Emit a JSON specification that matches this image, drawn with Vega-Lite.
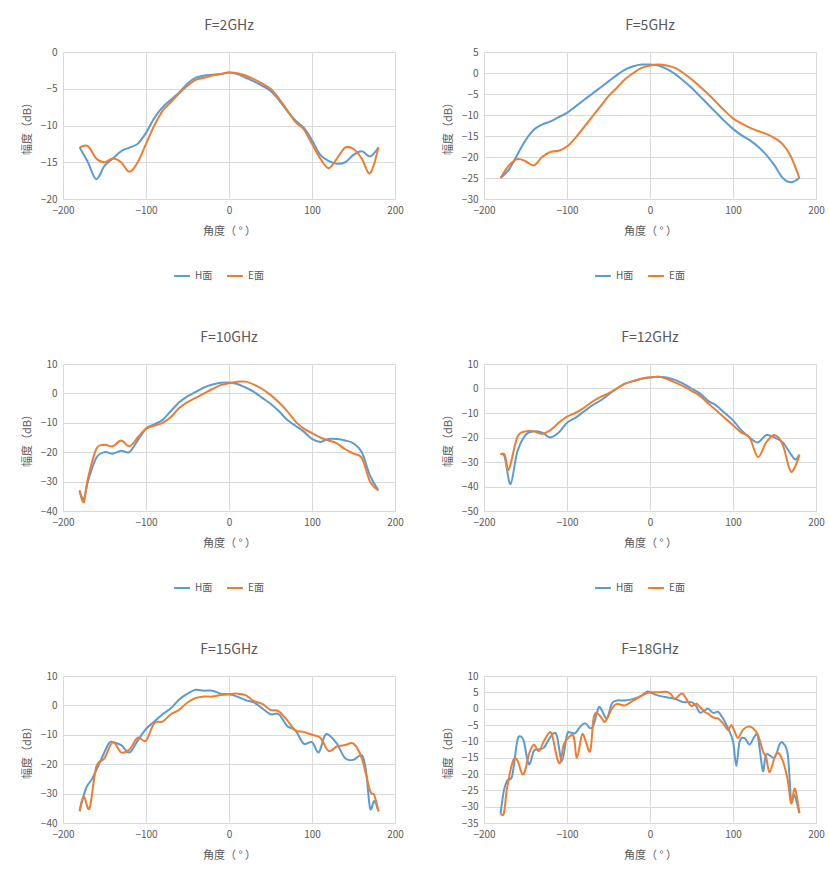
{
  "$schema": "https://vega.github.io/schema/vega-lite/v6.json",
  "padding": {"left": 21, "top": 19, "right": 5, "bottom": 5},
  "background": "white",
  "datasets": {
    "pat": [
      {"f":"2","s":"H面","ang":-180,"v":-13},{"f":"2","s":"H面","ang":-170,"v":-15},{"f":"2","s":"H面","ang":-160,"v":-17.3},{"f":"2","s":"H面","ang":-150,"v":-15.5},{"f":"2","s":"H面","ang":-140,"v":-14.5},{"f":"2","s":"H面","ang":-130,"v":-13.5},{"f":"2","s":"H面","ang":-120,"v":-13},{"f":"2","s":"H面","ang":-110,"v":-12.5},{"f":"2","s":"H面","ang":-100,"v":-11},{"f":"2","s":"H面","ang":-90,"v":-9},{"f":"2","s":"H面","ang":-80,"v":-7.5},{"f":"2","s":"H面","ang":-70,"v":-6.5},{"f":"2","s":"H面","ang":-60,"v":-5.5},{"f":"2","s":"H面","ang":-50,"v":-4.3},{"f":"2","s":"H面","ang":-40,"v":-3.5},{"f":"2","s":"H面","ang":-30,"v":-3.2},{"f":"2","s":"H面","ang":-20,"v":-3.1},{"f":"2","s":"H面","ang":-10,"v":-3},{"f":"2","s":"H面","ang":0,"v":-2.8},{"f":"2","s":"H面","ang":10,"v":-3},{"f":"2","s":"H面","ang":20,"v":-3.5},{"f":"2","s":"H面","ang":30,"v":-4},{"f":"2","s":"H面","ang":40,"v":-4.6},{"f":"2","s":"H面","ang":50,"v":-5.3},{"f":"2","s":"H面","ang":60,"v":-6.5},{"f":"2","s":"H面","ang":70,"v":-8},{"f":"2","s":"H面","ang":80,"v":-9.3},{"f":"2","s":"H面","ang":90,"v":-10.3},{"f":"2","s":"H面","ang":100,"v":-12},{"f":"2","s":"H面","ang":110,"v":-14},{"f":"2","s":"H面","ang":120,"v":-14.8},{"f":"2","s":"H面","ang":130,"v":-15.2},{"f":"2","s":"H面","ang":140,"v":-15},{"f":"2","s":"H面","ang":150,"v":-14},{"f":"2","s":"H面","ang":160,"v":-13.5},{"f":"2","s":"H面","ang":170,"v":-14.2},{"f":"2","s":"H面","ang":180,"v":-13},
      {"f":"2","s":"E面","ang":-180,"v":-13},{"f":"2","s":"E面","ang":-170,"v":-12.8},{"f":"2","s":"E面","ang":-160,"v":-14.5},{"f":"2","s":"E面","ang":-150,"v":-15},{"f":"2","s":"E面","ang":-140,"v":-14.5},{"f":"2","s":"E面","ang":-130,"v":-15},{"f":"2","s":"E面","ang":-120,"v":-16.3},{"f":"2","s":"E面","ang":-110,"v":-15},{"f":"2","s":"E面","ang":-100,"v":-12.5},{"f":"2","s":"E面","ang":-90,"v":-10},{"f":"2","s":"E面","ang":-80,"v":-8},{"f":"2","s":"E面","ang":-70,"v":-6.8},{"f":"2","s":"E面","ang":-60,"v":-5.6},{"f":"2","s":"E面","ang":-50,"v":-4.6},{"f":"2","s":"E面","ang":-40,"v":-3.8},{"f":"2","s":"E面","ang":-30,"v":-3.5},{"f":"2","s":"E面","ang":-20,"v":-3.2},{"f":"2","s":"E面","ang":-10,"v":-3},{"f":"2","s":"E面","ang":0,"v":-2.8},{"f":"2","s":"E面","ang":10,"v":-2.9},{"f":"2","s":"E面","ang":20,"v":-3.2},{"f":"2","s":"E面","ang":30,"v":-3.7},{"f":"2","s":"E面","ang":40,"v":-4.3},{"f":"2","s":"E面","ang":50,"v":-5},{"f":"2","s":"E面","ang":60,"v":-6.3},{"f":"2","s":"E面","ang":70,"v":-7.9},{"f":"2","s":"E面","ang":80,"v":-9.5},{"f":"2","s":"E面","ang":90,"v":-10.5},{"f":"2","s":"E面","ang":100,"v":-12.5},{"f":"2","s":"E面","ang":110,"v":-14.5},{"f":"2","s":"E面","ang":120,"v":-15.8},{"f":"2","s":"E面","ang":130,"v":-14.5},{"f":"2","s":"E面","ang":140,"v":-13},{"f":"2","s":"E面","ang":150,"v":-13.2},{"f":"2","s":"E面","ang":160,"v":-14.5},{"f":"2","s":"E面","ang":170,"v":-16.5},{"f":"2","s":"E面","ang":180,"v":-13},

      {"f":"5","s":"H面","ang":-180,"v":-25},{"f":"5","s":"H面","ang":-170,"v":-23},{"f":"5","s":"H面","ang":-160,"v":-19.5},{"f":"5","s":"H面","ang":-150,"v":-16},{"f":"5","s":"H面","ang":-140,"v":-13.5},{"f":"5","s":"H面","ang":-130,"v":-12.3},{"f":"5","s":"H面","ang":-120,"v":-11.5},{"f":"5","s":"H面","ang":-110,"v":-10.5},{"f":"5","s":"H面","ang":-100,"v":-9.5},{"f":"5","s":"H面","ang":-90,"v":-8},{"f":"5","s":"H面","ang":-80,"v":-6.5},{"f":"5","s":"H面","ang":-70,"v":-5},{"f":"5","s":"H面","ang":-60,"v":-3.5},{"f":"5","s":"H面","ang":-50,"v":-2},{"f":"5","s":"H面","ang":-40,"v":-0.5},{"f":"5","s":"H面","ang":-30,"v":0.8},{"f":"5","s":"H面","ang":-20,"v":1.6},{"f":"5","s":"H面","ang":-10,"v":2},{"f":"5","s":"H面","ang":0,"v":2},{"f":"5","s":"H面","ang":10,"v":1.8},{"f":"5","s":"H面","ang":20,"v":1},{"f":"5","s":"H面","ang":30,"v":-0.2},{"f":"5","s":"H面","ang":40,"v":-1.8},{"f":"5","s":"H面","ang":50,"v":-3.5},{"f":"5","s":"H面","ang":60,"v":-5.5},{"f":"5","s":"H面","ang":70,"v":-7.5},{"f":"5","s":"H面","ang":80,"v":-9.5},{"f":"5","s":"H面","ang":90,"v":-11.5},{"f":"5","s":"H面","ang":100,"v":-13.3},{"f":"5","s":"H面","ang":110,"v":-14.8},{"f":"5","s":"H面","ang":120,"v":-16},{"f":"5","s":"H面","ang":130,"v":-17.5},{"f":"5","s":"H面","ang":140,"v":-19.5},{"f":"5","s":"H面","ang":150,"v":-22},{"f":"5","s":"H面","ang":160,"v":-25},{"f":"5","s":"H面","ang":170,"v":-26},{"f":"5","s":"H面","ang":180,"v":-25},
      {"f":"5","s":"E面","ang":-180,"v":-25},{"f":"5","s":"E面","ang":-170,"v":-22},{"f":"5","s":"E面","ang":-160,"v":-20.5},{"f":"5","s":"E面","ang":-150,"v":-21},{"f":"5","s":"E面","ang":-140,"v":-22},{"f":"5","s":"E面","ang":-130,"v":-20},{"f":"5","s":"E面","ang":-120,"v":-18.8},{"f":"5","s":"E面","ang":-110,"v":-18.5},{"f":"5","s":"E面","ang":-100,"v":-17.5},{"f":"5","s":"E面","ang":-90,"v":-15.5},{"f":"5","s":"E面","ang":-80,"v":-13},{"f":"5","s":"E面","ang":-70,"v":-10.5},{"f":"5","s":"E面","ang":-60,"v":-8},{"f":"5","s":"E面","ang":-50,"v":-5.5},{"f":"5","s":"E面","ang":-40,"v":-3.5},{"f":"5","s":"E面","ang":-30,"v":-1.5},{"f":"5","s":"E面","ang":-20,"v":0},{"f":"5","s":"E面","ang":-10,"v":1.2},{"f":"5","s":"E面","ang":0,"v":1.8},{"f":"5","s":"E面","ang":10,"v":2},{"f":"5","s":"E面","ang":20,"v":1.8},{"f":"5","s":"E面","ang":30,"v":1.2},{"f":"5","s":"E面","ang":40,"v":0},{"f":"5","s":"E面","ang":50,"v":-1.5},{"f":"5","s":"E面","ang":60,"v":-3.2},{"f":"5","s":"E面","ang":70,"v":-5},{"f":"5","s":"E面","ang":80,"v":-7},{"f":"5","s":"E面","ang":90,"v":-9},{"f":"5","s":"E面","ang":100,"v":-10.8},{"f":"5","s":"E面","ang":110,"v":-12},{"f":"5","s":"E面","ang":120,"v":-13},{"f":"5","s":"E面","ang":130,"v":-13.8},{"f":"5","s":"E面","ang":140,"v":-14.5},{"f":"5","s":"E面","ang":150,"v":-15.5},{"f":"5","s":"E面","ang":160,"v":-17},{"f":"5","s":"E面","ang":170,"v":-20},{"f":"5","s":"E面","ang":180,"v":-25},

      {"f":"10","s":"H面","ang":-180,"v":-33},{"f":"10","s":"H面","ang":-175,"v":-36},{"f":"10","s":"H面","ang":-170,"v":-30},{"f":"10","s":"H面","ang":-160,"v":-22},{"f":"10","s":"H面","ang":-150,"v":-20},{"f":"10","s":"H面","ang":-140,"v":-20.5},{"f":"10","s":"H面","ang":-130,"v":-19.5},{"f":"10","s":"H面","ang":-120,"v":-20},{"f":"10","s":"H面","ang":-110,"v":-16},{"f":"10","s":"H面","ang":-100,"v":-12},{"f":"10","s":"H面","ang":-90,"v":-10.5},{"f":"10","s":"H面","ang":-80,"v":-9},{"f":"10","s":"H面","ang":-70,"v":-6},{"f":"10","s":"H面","ang":-60,"v":-3},{"f":"10","s":"H面","ang":-50,"v":-1},{"f":"10","s":"H面","ang":-40,"v":0.5},{"f":"10","s":"H面","ang":-30,"v":2},{"f":"10","s":"H面","ang":-20,"v":3},{"f":"10","s":"H面","ang":-10,"v":3.6},{"f":"10","s":"H面","ang":0,"v":3.7},{"f":"10","s":"H面","ang":10,"v":3.2},{"f":"10","s":"H面","ang":20,"v":2},{"f":"10","s":"H面","ang":30,"v":0.5},{"f":"10","s":"H面","ang":40,"v":-1.5},{"f":"10","s":"H面","ang":50,"v":-3.5},{"f":"10","s":"H面","ang":60,"v":-6},{"f":"10","s":"H面","ang":70,"v":-9},{"f":"10","s":"H面","ang":80,"v":-11},{"f":"10","s":"H面","ang":90,"v":-13},{"f":"10","s":"H面","ang":100,"v":-15.5},{"f":"10","s":"H面","ang":110,"v":-16.5},{"f":"10","s":"H面","ang":120,"v":-15.5},{"f":"10","s":"H面","ang":130,"v":-15.5},{"f":"10","s":"H面","ang":140,"v":-16},{"f":"10","s":"H面","ang":150,"v":-17},{"f":"10","s":"H面","ang":160,"v":-20},{"f":"10","s":"H面","ang":170,"v":-28},{"f":"10","s":"H面","ang":180,"v":-33},
      {"f":"10","s":"E面","ang":-180,"v":-33},{"f":"10","s":"E面","ang":-175,"v":-37},{"f":"10","s":"E面","ang":-170,"v":-29},{"f":"10","s":"E面","ang":-160,"v":-19},{"f":"10","s":"E面","ang":-150,"v":-17.5},{"f":"10","s":"E面","ang":-140,"v":-18},{"f":"10","s":"E面","ang":-130,"v":-16},{"f":"10","s":"E面","ang":-120,"v":-18},{"f":"10","s":"E面","ang":-110,"v":-15},{"f":"10","s":"E面","ang":-100,"v":-12},{"f":"10","s":"E面","ang":-90,"v":-11},{"f":"10","s":"E面","ang":-80,"v":-10},{"f":"10","s":"E面","ang":-70,"v":-8},{"f":"10","s":"E面","ang":-60,"v":-5},{"f":"10","s":"E面","ang":-50,"v":-3},{"f":"10","s":"E面","ang":-40,"v":-1.5},{"f":"10","s":"E面","ang":-30,"v":0},{"f":"10","s":"E面","ang":-20,"v":1.5},{"f":"10","s":"E面","ang":-10,"v":2.8},{"f":"10","s":"E面","ang":0,"v":3.5},{"f":"10","s":"E面","ang":10,"v":4},{"f":"10","s":"E面","ang":20,"v":4},{"f":"10","s":"E面","ang":30,"v":3},{"f":"10","s":"E面","ang":40,"v":1.5},{"f":"10","s":"E面","ang":50,"v":-0.5},{"f":"10","s":"E面","ang":60,"v":-3},{"f":"10","s":"E面","ang":70,"v":-6},{"f":"10","s":"E面","ang":80,"v":-9.5},{"f":"10","s":"E面","ang":90,"v":-12},{"f":"10","s":"E面","ang":100,"v":-13.5},{"f":"10","s":"E面","ang":110,"v":-15},{"f":"10","s":"E面","ang":120,"v":-16},{"f":"10","s":"E面","ang":130,"v":-17},{"f":"10","s":"E面","ang":140,"v":-19},{"f":"10","s":"E面","ang":150,"v":-20.5},{"f":"10","s":"E面","ang":160,"v":-22},{"f":"10","s":"E面","ang":170,"v":-30},{"f":"10","s":"E面","ang":180,"v":-33},

      {"f":"12","s":"H面","ang":-180,"v":-27},{"f":"12","s":"H面","ang":-175,"v":-28},{"f":"12","s":"H面","ang":-168,"v":-39},{"f":"12","s":"H面","ang":-160,"v":-26},{"f":"12","s":"H面","ang":-150,"v":-19},{"f":"12","s":"H面","ang":-140,"v":-17.5},{"f":"12","s":"H面","ang":-130,"v":-18},{"f":"12","s":"H面","ang":-120,"v":-20},{"f":"12","s":"H面","ang":-110,"v":-18},{"f":"12","s":"H面","ang":-100,"v":-14},{"f":"12","s":"H面","ang":-90,"v":-12},{"f":"12","s":"H面","ang":-80,"v":-9.5},{"f":"12","s":"H面","ang":-70,"v":-7},{"f":"12","s":"H面","ang":-60,"v":-5},{"f":"12","s":"H面","ang":-50,"v":-2.5},{"f":"12","s":"H面","ang":-40,"v":0},{"f":"12","s":"H面","ang":-30,"v":2},{"f":"12","s":"H面","ang":-20,"v":3},{"f":"12","s":"H面","ang":-10,"v":4},{"f":"12","s":"H面","ang":0,"v":4.5},{"f":"12","s":"H面","ang":10,"v":4.8},{"f":"12","s":"H面","ang":20,"v":4.5},{"f":"12","s":"H面","ang":30,"v":3.5},{"f":"12","s":"H面","ang":40,"v":2},{"f":"12","s":"H面","ang":50,"v":0},{"f":"12","s":"H面","ang":60,"v":-2},{"f":"12","s":"H面","ang":70,"v":-5},{"f":"12","s":"H面","ang":80,"v":-7},{"f":"12","s":"H面","ang":90,"v":-10},{"f":"12","s":"H面","ang":100,"v":-13},{"f":"12","s":"H面","ang":110,"v":-17},{"f":"12","s":"H面","ang":120,"v":-20},{"f":"12","s":"H面","ang":130,"v":-22},{"f":"12","s":"H面","ang":140,"v":-19},{"f":"12","s":"H面","ang":150,"v":-20},{"f":"12","s":"H面","ang":160,"v":-22},{"f":"12","s":"H面","ang":170,"v":-27},{"f":"12","s":"H面","ang":175,"v":-29},{"f":"12","s":"H面","ang":180,"v":-27},
      {"f":"12","s":"E面","ang":-180,"v":-27},{"f":"12","s":"E面","ang":-175,"v":-27},{"f":"12","s":"E面","ang":-170,"v":-33},{"f":"12","s":"E面","ang":-160,"v":-20},{"f":"12","s":"E面","ang":-150,"v":-17.5},{"f":"12","s":"E面","ang":-140,"v":-17.5},{"f":"12","s":"E面","ang":-130,"v":-18.5},{"f":"12","s":"E面","ang":-120,"v":-17},{"f":"12","s":"E面","ang":-110,"v":-14},{"f":"12","s":"E面","ang":-100,"v":-11.5},{"f":"12","s":"E面","ang":-90,"v":-10},{"f":"12","s":"E面","ang":-80,"v":-8},{"f":"12","s":"E面","ang":-70,"v":-5.5},{"f":"12","s":"E面","ang":-60,"v":-3.5},{"f":"12","s":"E面","ang":-50,"v":-2},{"f":"12","s":"E面","ang":-40,"v":0},{"f":"12","s":"E面","ang":-30,"v":2},{"f":"12","s":"E面","ang":-20,"v":3},{"f":"12","s":"E面","ang":-10,"v":4},{"f":"12","s":"E面","ang":0,"v":4.5},{"f":"12","s":"E面","ang":10,"v":4.8},{"f":"12","s":"E面","ang":20,"v":4},{"f":"12","s":"E面","ang":30,"v":2.5},{"f":"12","s":"E面","ang":40,"v":1},{"f":"12","s":"E面","ang":50,"v":-1},{"f":"12","s":"E面","ang":60,"v":-3},{"f":"12","s":"E面","ang":70,"v":-6},{"f":"12","s":"E面","ang":80,"v":-9},{"f":"12","s":"E面","ang":90,"v":-12},{"f":"12","s":"E面","ang":100,"v":-15},{"f":"12","s":"E面","ang":110,"v":-18},{"f":"12","s":"E面","ang":120,"v":-20},{"f":"12","s":"E面","ang":130,"v":-28},{"f":"12","s":"E面","ang":140,"v":-22},{"f":"12","s":"E面","ang":150,"v":-19},{"f":"12","s":"E面","ang":160,"v":-23},{"f":"12","s":"E面","ang":170,"v":-34},{"f":"12","s":"E面","ang":180,"v":-27},

      {"f":"15","s":"H面","ang":-180,"v":-36},{"f":"15","s":"H面","ang":-172,"v":-28},{"f":"15","s":"H面","ang":-165,"v":-25},{"f":"15","s":"H面","ang":-155,"v":-19},{"f":"15","s":"H面","ang":-145,"v":-13},{"f":"15","s":"H面","ang":-140,"v":-12.5},{"f":"15","s":"H面","ang":-130,"v":-13.5},{"f":"15","s":"H面","ang":-120,"v":-16},{"f":"15","s":"H面","ang":-110,"v":-12},{"f":"15","s":"H面","ang":-100,"v":-8},{"f":"15","s":"H面","ang":-90,"v":-5.5},{"f":"15","s":"H面","ang":-80,"v":-3},{"f":"15","s":"H面","ang":-70,"v":-1},{"f":"15","s":"H面","ang":-60,"v":2},{"f":"15","s":"H面","ang":-50,"v":4},{"f":"15","s":"H面","ang":-40,"v":5.3},{"f":"15","s":"H面","ang":-30,"v":5},{"f":"15","s":"H面","ang":-20,"v":5},{"f":"15","s":"H面","ang":-10,"v":4},{"f":"15","s":"H面","ang":0,"v":3.8},{"f":"15","s":"H面","ang":10,"v":3},{"f":"15","s":"H面","ang":20,"v":1.8},{"f":"15","s":"H面","ang":30,"v":1},{"f":"15","s":"H面","ang":40,"v":-1},{"f":"15","s":"H面","ang":50,"v":-3},{"f":"15","s":"H面","ang":60,"v":-3},{"f":"15","s":"H面","ang":70,"v":-7},{"f":"15","s":"H面","ang":80,"v":-8.5},{"f":"15","s":"H面","ang":90,"v":-13},{"f":"15","s":"H面","ang":100,"v":-12.5},{"f":"15","s":"H面","ang":108,"v":-16},{"f":"15","s":"H面","ang":115,"v":-10.5},{"f":"15","s":"H面","ang":120,"v":-10},{"f":"15","s":"H面","ang":130,"v":-13},{"f":"15","s":"H面","ang":140,"v":-18},{"f":"15","s":"H面","ang":150,"v":-18.5},{"f":"15","s":"H面","ang":160,"v":-17},{"f":"15","s":"H面","ang":165,"v":-22},{"f":"15","s":"H面","ang":170,"v":-35},{"f":"15","s":"H面","ang":175,"v":-32.5},{"f":"15","s":"H面","ang":180,"v":-36},
      {"f":"15","s":"E面","ang":-180,"v":-36},{"f":"15","s":"E面","ang":-175,"v":-31},{"f":"15","s":"E面","ang":-168,"v":-35},{"f":"15","s":"E面","ang":-160,"v":-21},{"f":"15","s":"E面","ang":-150,"v":-18},{"f":"15","s":"E面","ang":-140,"v":-12.5},{"f":"15","s":"E面","ang":-130,"v":-16},{"f":"15","s":"E面","ang":-120,"v":-15},{"f":"15","s":"E面","ang":-110,"v":-11},{"f":"15","s":"E面","ang":-100,"v":-12},{"f":"15","s":"E面","ang":-90,"v":-6},{"f":"15","s":"E面","ang":-80,"v":-5.5},{"f":"15","s":"E面","ang":-70,"v":-3},{"f":"15","s":"E面","ang":-60,"v":-1.5},{"f":"15","s":"E面","ang":-50,"v":1},{"f":"15","s":"E面","ang":-40,"v":2.5},{"f":"15","s":"E面","ang":-30,"v":3},{"f":"15","s":"E面","ang":-20,"v":3},{"f":"15","s":"E面","ang":-10,"v":3.5},{"f":"15","s":"E面","ang":0,"v":3.8},{"f":"15","s":"E面","ang":10,"v":4},{"f":"15","s":"E面","ang":20,"v":3.5},{"f":"15","s":"E面","ang":30,"v":1.5},{"f":"15","s":"E面","ang":40,"v":0.5},{"f":"15","s":"E面","ang":50,"v":-1.5},{"f":"15","s":"E面","ang":60,"v":-2},{"f":"15","s":"E面","ang":70,"v":-5},{"f":"15","s":"E面","ang":80,"v":-8.5},{"f":"15","s":"E面","ang":90,"v":-9},{"f":"15","s":"E面","ang":100,"v":-10},{"f":"15","s":"E面","ang":110,"v":-11},{"f":"15","s":"E面","ang":120,"v":-15.5},{"f":"15","s":"E面","ang":130,"v":-14},{"f":"15","s":"E面","ang":140,"v":-13.5},{"f":"15","s":"E面","ang":150,"v":-13},{"f":"15","s":"E面","ang":160,"v":-18},{"f":"15","s":"E面","ang":170,"v":-29},{"f":"15","s":"E面","ang":175,"v":-30.5},{"f":"15","s":"E面","ang":180,"v":-36},

      {"f":"18","s":"H面","ang":-180,"v":-32},{"f":"18","s":"H面","ang":-176,"v":-25},{"f":"18","s":"H面","ang":-172,"v":-22},{"f":"18","s":"H面","ang":-166,"v":-20.5},{"f":"18","s":"H面","ang":-160,"v":-10},{"f":"18","s":"H面","ang":-156,"v":-8.5},{"f":"18","s":"H面","ang":-152,"v":-10},{"f":"18","s":"H面","ang":-146,"v":-17},{"f":"18","s":"H面","ang":-140,"v":-13},{"f":"18","s":"H面","ang":-135,"v":-12.5},{"f":"18","s":"H面","ang":-128,"v":-12},{"f":"18","s":"H面","ang":-122,"v":-9.5},{"f":"18","s":"H面","ang":-116,"v":-7.5},{"f":"18","s":"H面","ang":-112,"v":-8.5},{"f":"18","s":"H面","ang":-106,"v":-16},{"f":"18","s":"H面","ang":-100,"v":-8},{"f":"18","s":"H面","ang":-96,"v":-7.3},{"f":"18","s":"H面","ang":-90,"v":-7.5},{"f":"18","s":"H面","ang":-84,"v":-5.5},{"f":"18","s":"H面","ang":-78,"v":-4.5},{"f":"18","s":"H面","ang":-72,"v":-6},{"f":"18","s":"H面","ang":-68,"v":-5},{"f":"18","s":"H面","ang":-62,"v":0.3},{"f":"18","s":"H面","ang":-58,"v":-0.5},{"f":"18","s":"H面","ang":-52,"v":-3},{"f":"18","s":"H面","ang":-46,"v":1.5},{"f":"18","s":"H面","ang":-40,"v":2.5},{"f":"18","s":"H面","ang":-30,"v":2.5},{"f":"18","s":"H面","ang":-20,"v":3},{"f":"18","s":"H面","ang":-10,"v":4},{"f":"18","s":"H面","ang":-4,"v":5.2},{"f":"18","s":"H面","ang":0,"v":5},{"f":"18","s":"H面","ang":10,"v":4},{"f":"18","s":"H面","ang":20,"v":3.5},{"f":"18","s":"H面","ang":30,"v":3},{"f":"18","s":"H面","ang":40,"v":2},{"f":"18","s":"H面","ang":50,"v":2},{"f":"18","s":"H面","ang":55,"v":1},{"f":"18","s":"H面","ang":60,"v":-1.2},{"f":"18","s":"H面","ang":66,"v":-0.5},{"f":"18","s":"H面","ang":70,"v":0},{"f":"18","s":"H面","ang":76,"v":-1.3},{"f":"18","s":"H面","ang":82,"v":-1},{"f":"18","s":"H面","ang":88,"v":-3},{"f":"18","s":"H面","ang":94,"v":-6},{"f":"18","s":"H面","ang":100,"v":-10},{"f":"18","s":"H面","ang":104,"v":-17.5},{"f":"18","s":"H面","ang":108,"v":-10},{"f":"18","s":"H面","ang":114,"v":-9},{"f":"18","s":"H面","ang":120,"v":-11},{"f":"18","s":"H面","ang":126,"v":-8.5},{"f":"18","s":"H面","ang":130,"v":-8.5},{"f":"18","s":"H面","ang":136,"v":-19},{"f":"18","s":"H面","ang":140,"v":-14},{"f":"18","s":"H面","ang":150,"v":-15},{"f":"18","s":"H面","ang":156,"v":-11},{"f":"18","s":"H面","ang":160,"v":-10.5},{"f":"18","s":"H面","ang":166,"v":-14},{"f":"18","s":"H面","ang":170,"v":-28},{"f":"18","s":"H面","ang":174,"v":-26.5},{"f":"18","s":"H面","ang":180,"v":-32},
      {"f":"18","s":"E面","ang":-180,"v":-32},{"f":"18","s":"E面","ang":-176,"v":-32},{"f":"18","s":"E面","ang":-172,"v":-24},{"f":"18","s":"E面","ang":-165,"v":-16},{"f":"18","s":"E面","ang":-160,"v":-15.7},{"f":"18","s":"E面","ang":-154,"v":-20},{"f":"18","s":"E面","ang":-150,"v":-18.5},{"f":"18","s":"E面","ang":-146,"v":-14},{"f":"18","s":"E面","ang":-140,"v":-11},{"f":"18","s":"E面","ang":-134,"v":-13},{"f":"18","s":"E面","ang":-128,"v":-10},{"f":"18","s":"E面","ang":-122,"v":-7.5},{"f":"18","s":"E面","ang":-118,"v":-8},{"f":"18","s":"E面","ang":-112,"v":-15},{"f":"18","s":"E面","ang":-108,"v":-16.5},{"f":"18","s":"E面","ang":-104,"v":-11},{"f":"18","s":"E面","ang":-98,"v":-8.8},{"f":"18","s":"E面","ang":-92,"v":-8.5},{"f":"18","s":"E面","ang":-88,"v":-15},{"f":"18","s":"E面","ang":-82,"v":-8},{"f":"18","s":"E面","ang":-78,"v":-9.5},{"f":"18","s":"E面","ang":-72,"v":-13},{"f":"18","s":"E面","ang":-68,"v":-3},{"f":"18","s":"E面","ang":-64,"v":-1.3},{"f":"18","s":"E面","ang":-58,"v":-3},{"f":"18","s":"E面","ang":-54,"v":-4},{"f":"18","s":"E面","ang":-48,"v":-1},{"f":"18","s":"E面","ang":-42,"v":1.2},{"f":"18","s":"E面","ang":-36,"v":1.3},{"f":"18","s":"E面","ang":-30,"v":1},{"f":"18","s":"E面","ang":-20,"v":2.5},{"f":"18","s":"E面","ang":-10,"v":4},{"f":"18","s":"E面","ang":0,"v":5},{"f":"18","s":"E面","ang":10,"v":5},{"f":"18","s":"E面","ang":20,"v":5.2},{"f":"18","s":"E面","ang":25,"v":4.5},{"f":"18","s":"E面","ang":30,"v":3},{"f":"18","s":"E面","ang":36,"v":4.3},{"f":"18","s":"E面","ang":40,"v":4.5},{"f":"18","s":"E面","ang":46,"v":2},{"f":"18","s":"E面","ang":50,"v":0.8},{"f":"18","s":"E面","ang":56,"v":1.5},{"f":"18","s":"E面","ang":60,"v":0.5},{"f":"18","s":"E面","ang":66,"v":-1},{"f":"18","s":"E面","ang":70,"v":-1.5},{"f":"18","s":"E面","ang":76,"v":-2.7},{"f":"18","s":"E面","ang":82,"v":-3},{"f":"18","s":"E面","ang":88,"v":-4.5},{"f":"18","s":"E面","ang":94,"v":-6.5},{"f":"18","s":"E面","ang":98,"v":-5},{"f":"18","s":"E面","ang":102,"v":-7},{"f":"18","s":"E面","ang":106,"v":-9},{"f":"18","s":"E面","ang":112,"v":-6.5},{"f":"18","s":"E面","ang":118,"v":-5.5},{"f":"18","s":"E面","ang":124,"v":-6},{"f":"18","s":"E面","ang":130,"v":-8},{"f":"18","s":"E面","ang":136,"v":-13},{"f":"18","s":"E面","ang":140,"v":-15},{"f":"18","s":"E面","ang":144,"v":-19.5},{"f":"18","s":"E面","ang":150,"v":-15},{"f":"18","s":"E面","ang":154,"v":-13.5},{"f":"18","s":"E面","ang":160,"v":-16},{"f":"18","s":"E面","ang":166,"v":-22},{"f":"18","s":"E面","ang":170,"v":-29},{"f":"18","s":"E面","ang":174,"v":-24.5},{"f":"18","s":"E面","ang":177,"v":-27},{"f":"18","s":"E面","ang":180,"v":-32}
    ]
  },
  "data": {"name": "pat"},
  "columns": 2,
  "spacing": {"column": 38, "row": 50},
  "resolve": {"scale": {"y": "independent", "color": "independent"}, "legend": {"color": "independent"}},
  "concat": [
    {"title": "F=2GHz", "width": 332, "height": 147, "transform": [{"filter": "datum.f == '2'"}], "mark": {"type": "line", "interpolate": "cardinal", "strokeWidth": 2},
     "encoding": {"x": {"field": "ang", "type": "quantitative", "scale": {"domain": [-200, 200]}, "axis": {"values": [-200, -100, 0, 100, 200], "title": "角度（ ° ）"}},
       "y": {"field": "v", "type": "quantitative", "scale": {"domain": [-20, 0]}, "axis": {"values": [-20, -15, -10, -5, 0], "title": "幅度（dB）"}},
       "color": {"field": "s", "type": "nominal", "scale": {"domain": ["H面", "E面"], "range": ["#5b9bd5", "#ed7d31"]}, "title": null}, "order": {"field": "ang", "type": "quantitative"}}},
    {"title": "F=5GHz", "width": 332, "height": 147, "transform": [{"filter": "datum.f == '5'"}], "mark": {"type": "line", "interpolate": "cardinal", "strokeWidth": 2},
     "encoding": {"x": {"field": "ang", "type": "quantitative", "scale": {"domain": [-200, 200]}, "axis": {"values": [-200, -100, 0, 100, 200], "title": "角度（ ° ）"}},
       "y": {"field": "v", "type": "quantitative", "scale": {"domain": [-30, 5]}, "axis": {"values": [-30, -25, -20, -15, -10, -5, 0, 5], "title": "幅度（dB）"}},
       "color": {"field": "s", "type": "nominal", "scale": {"domain": ["H面", "E面"], "range": ["#5b9bd5", "#ed7d31"]}, "title": null}, "order": {"field": "ang", "type": "quantitative"}}},
    {"title": "F=10GHz", "width": 332, "height": 147, "transform": [{"filter": "datum.f == '10'"}], "mark": {"type": "line", "interpolate": "cardinal", "strokeWidth": 2},
     "encoding": {"x": {"field": "ang", "type": "quantitative", "scale": {"domain": [-200, 200]}, "axis": {"values": [-200, -100, 0, 100, 200], "title": "角度（ ° ）"}},
       "y": {"field": "v", "type": "quantitative", "scale": {"domain": [-40, 10]}, "axis": {"values": [-40, -30, -20, -10, 0, 10], "title": "幅度（dB）"}},
       "color": {"field": "s", "type": "nominal", "scale": {"domain": ["H面", "E面"], "range": ["#5b9bd5", "#ed7d31"]}, "title": null}, "order": {"field": "ang", "type": "quantitative"}}},
    {"title": "F=12GHz", "width": 332, "height": 147, "transform": [{"filter": "datum.f == '12'"}], "mark": {"type": "line", "interpolate": "cardinal", "strokeWidth": 2},
     "encoding": {"x": {"field": "ang", "type": "quantitative", "scale": {"domain": [-200, 200]}, "axis": {"values": [-200, -100, 0, 100, 200], "title": "角度（ ° ）"}},
       "y": {"field": "v", "type": "quantitative", "scale": {"domain": [-50, 10]}, "axis": {"values": [-50, -40, -30, -20, -10, 0, 10], "title": "幅度（dB）"}},
       "color": {"field": "s", "type": "nominal", "scale": {"domain": ["H面", "E面"], "range": ["#5b9bd5", "#ed7d31"]}, "title": null}, "order": {"field": "ang", "type": "quantitative"}}},
    {"title": "F=15GHz", "width": 332, "height": 147, "transform": [{"filter": "datum.f == '15'"}], "mark": {"type": "line", "interpolate": "cardinal", "strokeWidth": 2},
     "encoding": {"x": {"field": "ang", "type": "quantitative", "scale": {"domain": [-200, 200]}, "axis": {"values": [-200, -100, 0, 100, 200], "title": "角度（ ° ）"}},
       "y": {"field": "v", "type": "quantitative", "scale": {"domain": [-40, 10]}, "axis": {"values": [-40, -30, -20, -10, 0, 10], "title": "幅度（dB）"}},
       "color": {"field": "s", "type": "nominal", "scale": {"domain": ["H面", "E面"], "range": ["#5b9bd5", "#ed7d31"]}, "title": null}, "order": {"field": "ang", "type": "quantitative"}}},
    {"title": "F=18GHz", "width": 332, "height": 147, "transform": [{"filter": "datum.f == '18'"}], "mark": {"type": "line", "interpolate": "cardinal", "strokeWidth": 2},
     "encoding": {"x": {"field": "ang", "type": "quantitative", "scale": {"domain": [-200, 200]}, "axis": {"values": [-200, -100, 0, 100, 200], "title": "角度（ ° ）"}},
       "y": {"field": "v", "type": "quantitative", "scale": {"domain": [-35, 10]}, "axis": {"values": [-35, -30, -25, -20, -15, -10, -5, 0, 5, 10], "title": "幅度（dB）"}},
       "color": {"field": "s", "type": "nominal", "scale": {"domain": ["H面", "E面"], "range": ["#5b9bd5", "#ed7d31"]}, "title": null}, "order": {"field": "ang", "type": "quantitative"}}}
  ],
  "config": {
    "font": "Noto Sans CJK SC",
    "view": {"stroke": null},
    "title": {"fontSize": 14, "fontWeight": "normal", "color": "#595959", "offset": 14},
    "axis": {"labelColor": "#595959", "titleColor": "#595959", "labelFontSize": 10, "titleFontSize": 11, "titleFontWeight": "normal", "gridColor": "#d9d9d9", "domain": false, "ticks": false, "labelPadding": 6, "labelFlush": false},
    "axisX": {"titlePadding": 10, "domain": true, "domainColor": "#d9d9d9"},
    "axisY": {"titlePadding": 8},
    "legend": {"orient": "none", "legendX": 110, "legendY": 215, "direction": "horizontal", "symbolType": "stroke", "symbolStrokeWidth": 2, "symbolSize": 250, "labelColor": "#595959", "labelFontSize": 10}
  }
}
